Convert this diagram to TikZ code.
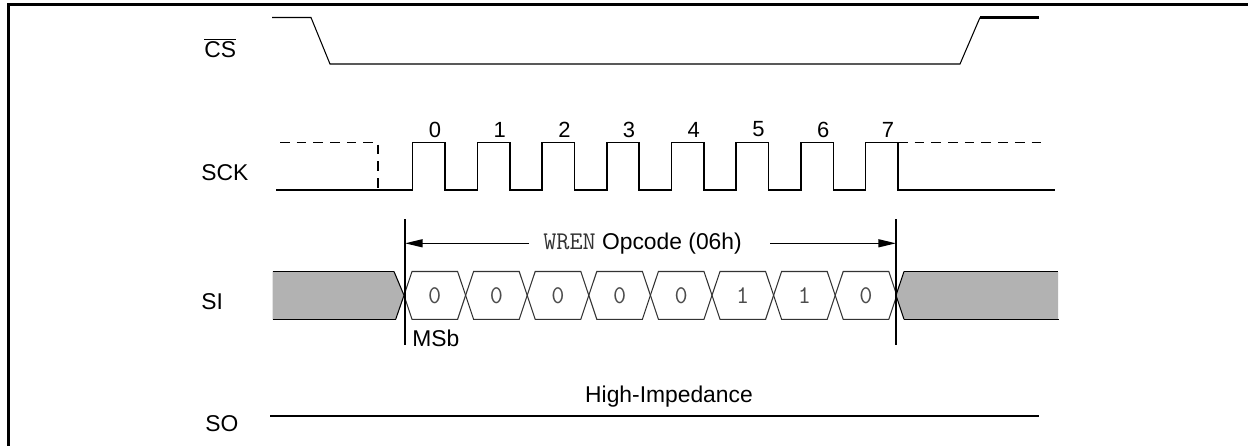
\documentclass[tikz,border=0pt]{standalone}
\usepackage{fontspec}
\setmainfont{Liberation Sans}
\usetikzlibrary{arrows.meta}
\begin{document}
\begin{tikzpicture}[x=0.02cm,y=-0.02cm,
  sig/.style={line width=0.9pt},
  thinsig/.style={line width=0.6pt},
  hexline/.style={line width=0.6pt,draw=black!80},
  busfill/.style={fill=black!30},
  lbl/.style={anchor=west,inner sep=0pt,font=\fontsize{13}{15}\selectfont},
  bitnum/.style={inner sep=0pt,font=\fontsize{12.5}{14}\selectfont},
  bitval/.style={inner sep=0pt,text=black!70,font=\fontsize{14.5}{16}\ttfamily},
  arr/.style={line width=0.9pt,-{Triangle[length=10pt,width=4.5pt]}}]
\useasboundingbox (0,0) rectangle (1248,446);
\draw[line width=1.7pt] (8.7,446) -- (8.7,4.5) -- (1248,4.5);
\node[lbl] (cslbl) at (204,48) {$\overline{\mbox{CS}}$};
\node[lbl] (scklbl) at (201,173) {SCK};
\node[lbl] (silbl) at (201,302) {SI};
\node[lbl] (solbl) at (205,424) {SO};
\draw[thinsig] (272,17.5) -- (311,17.5) -- (330,64) -- (960,64) -- (980,17.5);
\draw[line width=1.2pt] (980,17.5) -- (1039,17.5);
\draw[sig,dash pattern=on 5.5pt off 4pt] (280,142.5) -- (378,142.5) -- (378,190);
\draw[sig] (276,190) foreach \k in {0,...,7} {-- ({412.7+64.7*\k},190) -- ({412.7+64.7*\k},142.5) -- ({445.1+64.7*\k},142.5) -- ({445.1+64.7*\k},190)} -- (1054.5,190);
\draw[sig,dash pattern=on 5.5pt off 4pt] (898,142.5) -- (1046,142.5);
\foreach \k in {0,...,7}
  \node[bitnum] (n\k) at ({435+64.7*\k},129.5) {\k};
\fill[busfill] (272.7,271.5) -- (394,271.5) -- (404,295.3) -- (395.7,319.3) -- (272.7,319.3) -- cycle;
\draw[thinsig] (394,271.5) -- (404,295.3) -- (395.7,319.3);
\draw[sig] (272.7,271.5) -- (394,271.5) (272.7,319.3) -- (395.7,319.3);
\foreach \k/\v in {0/0,1/0,2/0,3/0,4/0,5/1,6/1,7/0} {
  \draw[hexline] ({404+61.6*\k},295.3) -- ({412+61.6*\k},271.5) -- ({457.6+61.6*\k},271.5)
    -- ({465.6+61.6*\k},295.3) -- ({457.6+61.6*\k},319.3) -- ({412+61.6*\k},319.3) -- cycle;
  \node[bitval] (v\k) at ({434.8+61.6*\k},296) {\v};
}
\fill[busfill] (1058,271.5) -- (904,271.5) -- (896,295.3) -- (904,319.3) -- (1058,319.3) -- cycle;
\draw[thinsig] (904,271.5) -- (896,295.3) -- (904,319.3);
\draw[sig] (904,271.5) -- (1058,271.5) (904,319.3) -- (1059,319.3);
\coordinate (msbtop) at (405,219);
\coordinate (msbbot) at (405,345);
\coordinate (endtop) at (896,219);
\coordinate (endbot) at (896,345);
\draw[sig] (msbtop) -- (msbbot);
\draw[sig] (endtop) -- (endbot);
\node[inner sep=0pt,font=\fontsize{13}{15}\selectfont] (opc) at (642.5,243.3) {{\color{black!80}\fontsize{14.5}{16}\ttfamily WREN} Opcode (06h)};
\coordinate (al) at (529,243.3);
\coordinate (ar) at (770,243.3);
\coordinate (ltip) at (405,243.3);
\coordinate (rtip) at (896,243.3);
\draw[arr] (al) -- (ltip);
\draw[arr] (ar) -- (rtip);
\node[lbl] (msb) at (412,338) {MSb};
\node[inner sep=0pt,font=\fontsize{13}{15}\selectfont] (hiz) at (669,397) {High-Impedance};
\draw[line width=1.1pt] (270,416) -- (1039,416);
\end{tikzpicture}
\end{document}
